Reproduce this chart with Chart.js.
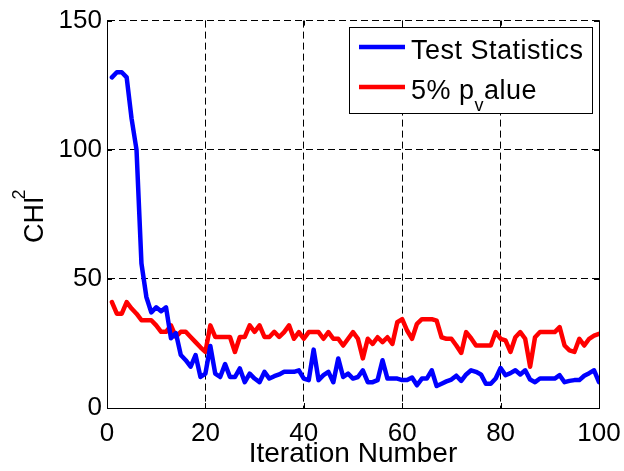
<!DOCTYPE html>
<html>
<head>
<meta charset="utf-8">
<script src="https://cdn.jsdelivr.net/npm/chart.js@4/dist/chart.umd.min.js"></script>
<style>
  html, body { margin: 0; padding: 0; background: #fff; }
  canvas { display: block; }
</style>
</head>
<body>
<canvas id="chi" width="624" height="471"></canvas>
<script>
// iteration number on the x axis
const iterations = [
  1, 2, 3, 4, 5, 6, 7, 8, 9, 10, 11, 12, 13, 14, 15, 16, 17, 18, 19, 20,
  21, 22, 23, 24, 25, 26, 27, 28, 29, 30, 31, 32, 33, 34, 35, 36, 37, 38, 39, 40,
  41, 42, 43, 44, 45, 46, 47, 48, 49, 50, 51, 52, 53, 54, 55, 56, 57, 58, 59, 60,
  61, 62, 63, 64, 65, 66, 67, 68, 69, 70, 71, 72, 73, 74, 75, 76, 77, 78, 79, 80,
  81, 82, 83, 84, 85, 86, 87, 88, 89, 90, 91, 92, 93, 94, 95, 96, 97, 98, 99, 100
];

// chi-square test statistic per iteration
const testStat = [
  128, 130, 130, 128, 112, 100, 56, 43, 37, 39, 37.5, 39, 27, 29, 20.5, 18.5, 16, 20.5, 12, 13.3,
  24, 13.3, 12, 17, 12, 12, 15.3, 10, 13.3, 11.4, 10, 14, 11.4, 12.3, 13, 14, 14, 14, 14.6, 11.4,
  10.8, 22.6, 10.8, 12.7, 14, 10, 19.2, 12, 13.3, 11.4, 12, 14.6, 10, 10, 10.8, 18.5, 11.4, 11.4, 11.4, 10.8,
  10.8, 11.8, 8.8, 11.4, 11.4, 14.6, 8.5, 9.4, 10.3, 11, 12.5, 10.5, 13, 14.6, 14, 13, 9.4, 9.4, 11.4, 15.5,
  12.7, 13.5, 14.6, 13, 14.6, 11, 10, 11.4, 11.4, 11.4, 11.4, 12.7, 10, 10.5, 10.8, 10.8, 12.5, 13.5, 14.6, 10
];

// critical value at the 5% level per iteration
const pValue5 = [
  41, 36.5, 36.5, 41, 38.5, 36.5, 34, 34, 34, 32, 29.5, 29.5, 32, 27.5, 29.5, 29.5, 27.5, 25.5, 23.5, 21.7,
  32, 27.5, 27.5, 27.5, 27.5, 21.7, 27.5, 27.5, 32, 29.5, 32, 27.5, 27.5, 29.5, 27.5, 29.4, 32, 26.8, 29.4, 26.8,
  29.4, 29.4, 29.4, 26.8, 29.4, 26.8, 26.8, 24.2, 26.8, 29.4, 26.8, 19.2, 26.8, 24.8, 27.4, 25.5, 27.4, 24.8, 33.2, 34.4,
  30, 26.8, 32.6, 34.4, 34.4, 34.4, 33.8, 27.4, 26.8, 26.8, 24.2, 21.3, 29.4, 27, 24.2, 24.2, 24.2, 24.2, 29.4, 26.8,
  26.2, 21.7, 27.4, 29.4, 26.8, 16, 27.4, 29.4, 29.4, 29.4, 29.4, 31.3, 24.2, 22.3, 21.7, 26.8, 24.2, 26.8, 28, 28.7
];

const xTicks = [0, 20, 40, 60, 80, 100];
const yTicks = [0, 50, 100, 150];

const FONT = '"Liberation Sans", Arial, Helvetica, sans-serif';

function toPoints(values) {
  return values.map((v, i) => ({ x: iterations[i], y: v }));
}

// box edges, inward ticks, y title and the boxed legend
const framePlugin = {
  id: 'frame',
  afterDraw(chart) {
    const { ctx, chartArea: a, scales } = chart;
    const xs = scales.x, ys = scales.y;
    ctx.save();
    ctx.strokeStyle = '#000';
    ctx.lineWidth = 1;
    ctx.setLineDash([]);
    ctx.beginPath();
    const r = Math.round(a.right) + 0.5;
    ctx.moveTo(r, a.top);
    ctx.lineTo(r, a.bottom);
    xTicks.forEach(v => {
      const px = Math.round(xs.getPixelForValue(v)) + 0.5;
      ctx.moveTo(px, a.bottom); ctx.lineTo(px, a.bottom - 5);
      ctx.moveTo(px, a.top); ctx.lineTo(px, a.top + 5);
    });
    yTicks.forEach(v => {
      const py = Math.round(ys.getPixelForValue(v)) + 0.5;
      ctx.moveTo(a.left, py); ctx.lineTo(a.left + 5, py);
      ctx.moveTo(a.right, py); ctx.lineTo(a.right - 5, py);
    });
    ctx.stroke();

    // y title: CHI with a superscript 2
    ctx.fillStyle = '#000';
    ctx.save();
    ctx.translate(43, 243);
    ctx.rotate(-Math.PI / 2);
    ctx.textBaseline = 'alphabetic';
    ctx.textAlign = 'left';
    ctx.font = '27px ' + FONT;
    ctx.fillText('CHI', 0, 0);
    const w = ctx.measureText('CHI').width;
    ctx.font = '18px ' + FONT;
    ctx.fillText('2', w - 3, -18);
    ctx.restore();

    // legend
    const lx = 349.5, ly = 27.5, lw = 243, lh = 86;
    ctx.fillStyle = '#fff';
    ctx.fillRect(lx, ly, lw, lh);
    ctx.strokeRect(lx, ly, lw, lh);
    const rows = [
      { ds: chart.data.datasets[0], y: 47 },
      { ds: chart.data.datasets[1], y: 87 }
    ];
    rows.forEach((row, i) => {
      ctx.strokeStyle = row.ds.borderColor;
      ctx.lineWidth = 4.5;
      ctx.beginPath();
      ctx.moveTo(359, row.y);
      ctx.lineTo(405, row.y);
      ctx.stroke();
      ctx.fillStyle = '#000';
      ctx.textBaseline = 'alphabetic';
      ctx.textAlign = 'left';
      ctx.letterSpacing = '0.5px';
      ctx.font = '27px ' + FONT;
      const base = row.y + 11.5;
      if (i === 0) {
        ctx.fillText(row.ds.label, 411, base);
      } else {
        // "5% p" + subscript v + "alue"
        let tx = 411;
        ctx.fillText('5% p', tx, base);
        tx += ctx.measureText('5% p').width;
        ctx.font = '18px ' + FONT;
        ctx.fillText('v', tx, base + 12);
        tx += ctx.measureText('v').width;
        ctx.font = '27px ' + FONT;
        ctx.fillText('alue', tx, base);
      }
    });
    ctx.restore();
  }
};

new Chart(document.getElementById('chi').getContext('2d'), {
  type: 'line',
  data: {
    datasets: [
      {
        label: 'Test Statistics',
        data: toPoints(testStat),
        borderColor: '#0000ff',
        backgroundColor: '#0000ff',
        borderWidth: 4.5,
        pointRadius: 0,
        tension: 0,
        borderJoinStyle: 'round',
        borderCapStyle: 'round'
      },
      {
        label: '5% pvalue',
        data: toPoints(pValue5),
        borderColor: '#ff0000',
        backgroundColor: '#ff0000',
        borderWidth: 4.5,
        pointRadius: 0,
        tension: 0,
        borderJoinStyle: 'round',
        borderCapStyle: 'round'
      }
    ]
  },
  options: {
    responsive: false,
    animation: false,
    layout: { padding: { top: 18, right: 25, bottom: 0, left: 0 } },
    plugins: {
      legend: { display: false },
      tooltip: { enabled: false }
    },
    scales: {
      x: {
        type: 'linear',
        min: 0,
        max: 100,
        afterBuildTicks: s => { s.ticks = xTicks.map(v => ({ value: v })); },
        // fixed band height; the end labels overhang into the layout padding
        afterFit: s => { s.height = 63; s.paddingLeft = 0; s.paddingRight = 0; },
        grid: { color: '#000', lineWidth: 1, drawTicks: false },
        border: { display: true, color: '#000', width: 1, dash: [7, 4] },
        ticks: { color: '#000', padding: 10, font: { family: FONT, size: 26 }, maxRotation: 0 },
        title: {
          display: true,
          text: 'Iteration Number',
          color: '#000',
          font: { family: FONT, size: 28, lineHeight: 1 },
          padding: { top: 0, bottom: 3 }
        }
      },
      y: {
        min: 0,
        max: 150,
        afterBuildTicks: s => { s.ticks = yTicks.map(v => ({ value: v })); },
        afterFit: s => { s.width = 107; },
        grid: { color: '#000', lineWidth: 1, drawTicks: false },
        border: { display: true, color: '#000', width: 1, dash: [7, 4] },
        ticks: { color: '#000', padding: 5, font: { family: FONT, size: 26 } }
      }
    }
  },
  plugins: [framePlugin]
});
</script>
</body>
</html>
